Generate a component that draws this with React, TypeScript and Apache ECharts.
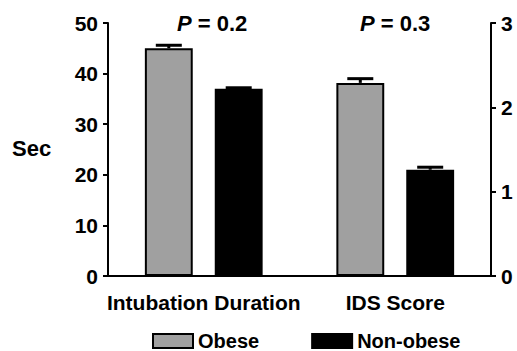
import React, { useEffect, useRef } from "react";
import * as echarts from "echarts";

const categories = ["Intubation Duration", "IDS Score"];
const obeseValues = [45, 2.29];
const nonObeseValues = [37, 1.26];
const obeseErrors = [0.6, 0.05];
const nonObeseErrors = [0.2, 0.03];
const pLabels = ["0.2", "0.3"];
const leftTicks = [0, 10, 20, 30, 40, 50];
const rightTicks = [0, 1, 2, 3];

const FONT = "'Liberation Sans', Arial, sans-serif";
const GRAY = "#a0a0a0";
const BLACK = "#000000";

export default function App() {
  const ref = useRef<HTMLDivElement>(null);
  useEffect(() => {
    if (!ref.current) return;
    document.body.style.margin = "0";
    const chart = echarts.init(ref.current, undefined, { renderer: "svg" });
    const barRatio = 0.25;
    const gapRatio = 0.46;
    const errorItem = (params: any, api: any) => {
      const cat = api.value(0);
      const val = api.value(1);
      const err = api.value(2);
      const side = api.value(3);
      const band = api.size([1, 0])[0];
      const bw = band * barRatio;
      const off = side * (bw * (1 + gapRatio)) / 2;
      const p0 = api.coord([cat, val]);
      const p1 = api.coord([cat, val + err]);
      const x = p0[0] + off;
      const half = 13;
      return {
        type: "group",
        children: [
          { type: "line", shape: { x1: x, y1: p0[1], x2: x, y2: p1[1] }, style: { stroke: "#000", lineWidth: 3 } },
          { type: "line", shape: { x1: x - half, y1: p1[1], x2: x + half, y2: p1[1] }, style: { stroke: "#000", lineWidth: 3 } },
        ],
      };
    };
    const secSlot = (arr: number[]) => arr.map((v, i) => (i === 0 ? v : "-"));
    const idsSlot = (arr: number[]) => arr.map((v, i) => (i === 1 ? v : "-"));
    const barStyle = (c: string) => ({ color: c, borderColor: "#000", borderWidth: 2 });
    const labelStyle = { color: "#000", fontFamily: FONT, fontWeight: "bold" as const, fontSize: 21 };

    chart.setOption({
      animation: false,
      grid: { left: 108, right: 26, top: 23, bottom: 75, containLabel: false },
      legend: {
        data: ["Obese", "Non-obese"],
        left: 152,
        top: 331,
        padding: 0,
        itemWidth: 40,
        itemHeight: 14,
        itemGap: 52,
        icon: "rect",
        textStyle: { ...labelStyle, fontSize: 20, lineHeight: 20, padding: [0, 0, 0, 0] },
      },
      xAxis: [
        {
          type: "category",
          data: categories,
          axisLine: { lineStyle: { color: "#000", width: 2 } },
          axisTick: { alignWithLabel: true, length: 7, lineStyle: { color: "#000", width: 2 }, interval: 0 },
          axisLabel: { ...labelStyle, margin: 16, interval: 0 },
        },
        { type: "category", data: categories, show: false },
      ],
      yAxis: [
        {
          type: "value",
          min: 0,
          max: 50,
          interval: 10,
          splitLine: { show: false },
          axisLine: { show: true, lineStyle: { color: "#000", width: 2 } },
          axisTick: { show: true, length: 5, lineStyle: { color: "#000", width: 2 } },
          axisLabel: { ...labelStyle, margin: 10, formatter: (v: number) => (leftTicks.includes(v) ? String(v) : "") },
        },
        {
          type: "value",
          position: "right",
          min: 0,
          max: 3,
          interval: 1,
          splitLine: { show: false },
          axisLine: { show: true, lineStyle: { color: "#000", width: 2 } },
          axisTick: { show: true, length: 5, lineStyle: { color: "#000", width: 2 } },
          axisLabel: { ...labelStyle, margin: 10, formatter: (v: number) => (rightTicks.includes(v) ? String(v) : "") },
        },
      ],
      series: [
        { name: "Obese", type: "bar", xAxisIndex: 0, yAxisIndex: 0, data: secSlot(obeseValues), barWidth: "25%", barGap: "46%", itemStyle: barStyle(GRAY) },
        { name: "Non-obese", type: "bar", xAxisIndex: 0, yAxisIndex: 0, data: secSlot(nonObeseValues), barWidth: "25%", barGap: "46%", itemStyle: barStyle(BLACK) },
        { name: "Obese", type: "bar", xAxisIndex: 1, yAxisIndex: 1, data: idsSlot(obeseValues), barWidth: "25%", barGap: "46%", itemStyle: barStyle(GRAY) },
        { name: "Non-obese", type: "bar", xAxisIndex: 1, yAxisIndex: 1, data: idsSlot(nonObeseValues), barWidth: "25%", barGap: "46%", itemStyle: barStyle(BLACK) },
        {
          name: "err-sec",
          type: "custom",
          xAxisIndex: 0,
          yAxisIndex: 0,
          renderItem: errorItem,
          data: [
            [0, obeseValues[0], obeseErrors[0], -1],
            [0, nonObeseValues[0], nonObeseErrors[0], 1],
          ],
          z: 5,
        },
        {
          name: "err-ids",
          type: "custom",
          xAxisIndex: 1,
          yAxisIndex: 1,
          renderItem: errorItem,
          data: [
            [1, obeseValues[1], obeseErrors[1], -1],
            [1, nonObeseValues[1], nonObeseErrors[1], 1],
          ],
          z: 5,
        },
      ],
      graphic: [
        {
          type: "text",
          left: 12,
          top: 137,
          style: { text: "Sec", font: `bold 22px ${FONT}`, fill: "#000" },
        },
        ...pLabels.map((p, i) => ({
          type: "text",
          left: i === 0 ? 177 : 360,
          top: 12,
          style: {
            text: `{i|P} = ${p}`,
            rich: {
              i: { fontStyle: "italic", fontWeight: "bold", fontSize: 22, fontFamily: FONT, fill: "#000" },
            },
            font: `bold 22px ${FONT}`,
            fill: "#000",
          },
        })),
      ],
    });
    return () => chart.dispose();
  }, []);
  return <div ref={ref} style={{ width: 517, height: 351 }} />;
}
